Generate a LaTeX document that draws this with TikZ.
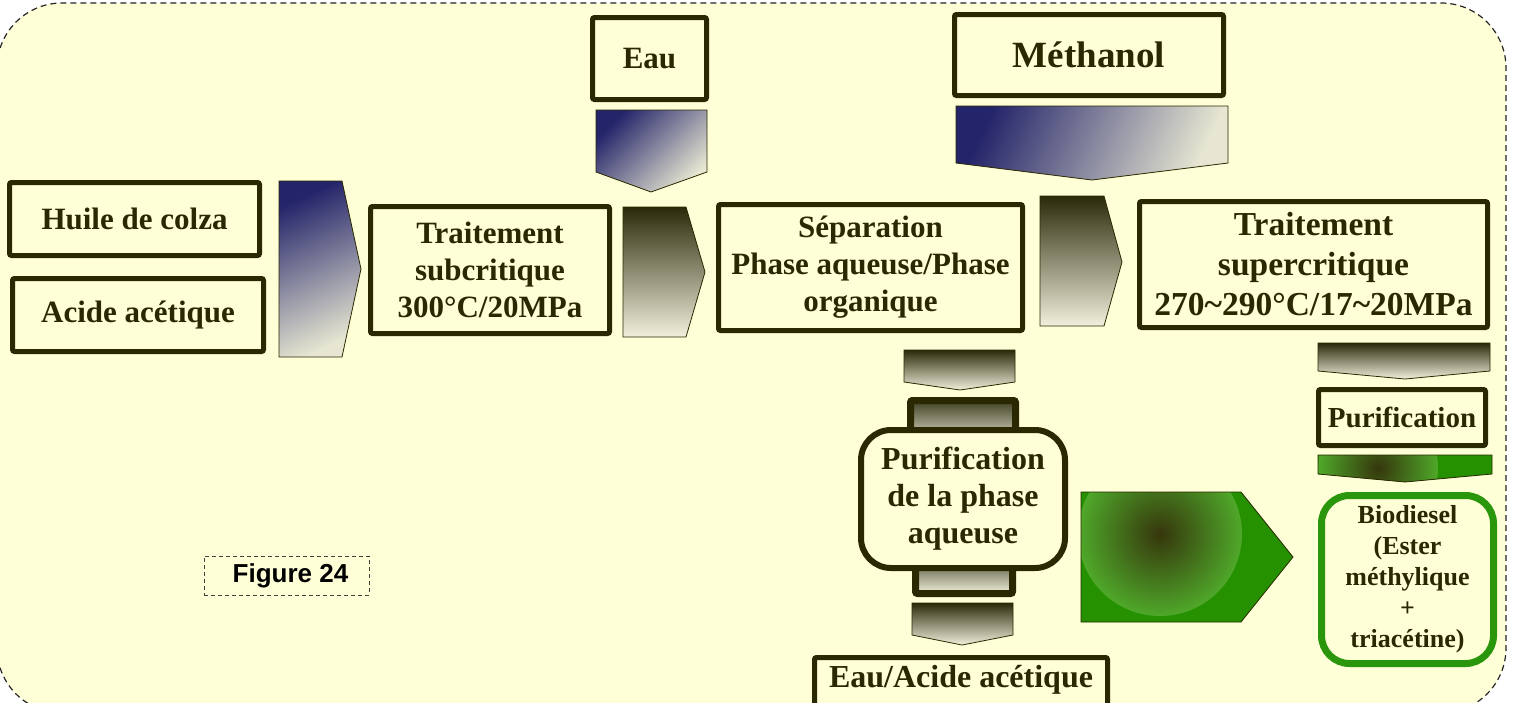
\documentclass[tikz,border=0pt]{standalone}
\usepackage{fontspec}
\setmainfont{Liberation Serif}
\newfontfamily\sansbf{Liberation Sans}
\usetikzlibrary{shadings}
\definecolor{bg}{HTML}{FFFFD7}
\definecolor{dk}{HTML}{2A2800}
\definecolor{navy}{HTML}{24246A}
\definecolor{blmid}{HTML}{7474A0}
\definecolor{beige}{HTML}{E6E6D2}
\definecolor{olv}{HTML}{2A2A0A}
\definecolor{olvmid}{HTML}{7A7A54}
\definecolor{olvlt}{HTML}{F0F0DC}
\definecolor{grn}{HTML}{259000}
\definecolor{grnbox}{HTML}{2A960C}
\definecolor{grnlt}{HTML}{4FA82A}
\definecolor{grndk}{HTML}{36360C}
\begin{document}
\begin{tikzpicture}[x=1pt,y=-1pt,
  box/.style={draw=dk, line width=5pt, fill=bg, rounded corners=2pt, inner sep=0pt,
    align=center, text=dk, font=\fontsize{31}{37}\selectfont\bfseries},
  bluearr/.style={top color=navy, middle color=blmid, bottom color=beige, shading angle=#1,
    draw=dk, line width=0.8pt},
  darkarr/.style={top color=olv, middle color=olvmid, bottom color=olvlt, draw=dk, line width=0.8pt},
  tabbox/.style={draw=dk, line width=7pt, top color=olv!90!white, middle color=olvmid, bottom color=olvlt, rounded corners=2pt},
  greenline/.style={draw=dk, line width=0.8pt}
]
\useasboundingbox (0,0) rectangle (1514,702);
\fill[white] (0,0) rectangle (1514,702);
\path[fill=bg, draw=black!85, line width=1.2pt, dash pattern=on 6pt off 4pt, rounded corners=65pt]
  (-3,3) rectangle (1506,713);

% block arrows
\shadedraw[bluearr=25] (279,181) -- (342,181) -- (361,269) -- (342,357) -- (279,357) -- cycle;
\shadedraw[darkarr] (623,207) -- (686,207) -- (705,272) -- (686,337) -- (623,337) -- cycle;
\shadedraw[bluearr=45] (596,110) -- (707,110) -- (707,172) -- (651,192) -- (596,172) -- cycle;
\shadedraw[bluearr=65] (956,106) -- (1228,106) -- (1228,163) -- (1092,180) -- (956,163) -- cycle;
\shadedraw[darkarr] (1040,196) -- (1104,196) -- (1122,262) -- (1104,326) -- (1040,326) -- cycle;
\shadedraw[darkarr] (904,350) -- (1015,350) -- (1015,382) -- (960,390) -- (904,382) -- cycle;
\shadedraw[darkarr] (912,603) -- (1013,603) -- (1013,635) -- (962,645) -- (912,635) -- cycle;
\shadedraw[darkarr] (1318,343) -- (1490,343) -- (1490,371) -- (1405,379) -- (1318,371) -- cycle;

% green arrows
\fill[grn] (1081,492) -- (1241,492) -- (1293,557) -- (1241,622) -- (1081,622) -- cycle;
\begin{scope}
  \clip (1081,492) -- (1241,492) -- (1293,557) -- (1241,622) -- (1081,622) -- cycle;
  \shade[inner color=grndk, outer color=grnlt] (1160,534) circle (82);
\end{scope}
\draw[greenline] (1081,492) -- (1241,492) -- (1293,557) -- (1241,622) -- (1081,622) -- cycle;

\fill[grn] (1318,455) -- (1492,455) -- (1492,474) -- (1405,482) -- (1318,474) -- cycle;
\begin{scope}
  \clip (1318,455) -- (1492,455) -- (1492,474) -- (1405,482) -- (1318,474) -- cycle;
  \shade[inner color=grndk, outer color=grnlt] (1378,468) circle (60);
\end{scope}
\draw[greenline] (1318,455) -- (1492,455) -- (1492,474) -- (1405,482) -- (1318,474) -- cycle;

% tabs of the purification box
\draw[tabbox] (910.5,400.5) rectangle (1015.5,445);
\draw[tabbox] (915.5,555) rectangle (1012.5,593.5);

% boxes
\node[box, minimum width=250pt, minimum height=73pt] (huile) at (134.5,219) {Huile de colza};
\node[box, minimum width=251pt, minimum height=73pt] (acide) at (138,315) {Acide acétique};
\node[box, minimum width=239pt, minimum height=127pt] (sub) at (490,270) {Traitement\\subcritique\\300°C/20MPa};
\node[box, minimum width=114pt, minimum height=82pt] (eau) at (649.5,58.5) {Eau};
\node[box, minimum width=304pt, minimum height=126pt] (sep) at (870.5,267.5) {Séparation\\Phase aqueuse/Phase\\organique};
\node[box, minimum width=269pt, minimum height=81pt, font=\fontsize{37}{44}\selectfont\bfseries] (meth) at (1089,55) {Méthanol};
\node[box, minimum width=348pt, minimum height=126pt, font=\fontsize{33.5}{40}\selectfont\bfseries] (super) at (1313.5,264.5) {Traitement\\supercritique\\270\char`\~290°C/17\char`\~20MPa};
\node[box, minimum width=167pt, minimum height=56pt, font=\fontsize{29}{34}\selectfont\bfseries] (purif) at (1402,417.5) {Purification};
\node[box, line width=6pt, rounded corners=30pt, minimum width=204pt, minimum height=138pt, font=\fontsize{32}{37}\selectfont\bfseries] (purifaq) at (963,499) {Purification\\de la phase\\aqueuse};
\node[box, minimum width=293pt, minimum height=52pt] (eaubox) at (961,683.5) {};
\node[text=dk, font=\fontsize{32}{37}\selectfont\bfseries, anchor=base, inner sep=0pt] (eautext) at (961,687) {Eau/Acide acétique};
\node[box, draw=grnbox, line width=7pt, rounded corners=28pt, minimum width=172pt, minimum height=168pt, font=\fontsize{26}{31}\selectfont\bfseries] (bio) at (1407.5,579.5) {Biodiesel\\(Ester\\méthylique\\+\\triacétine)};

% figure label
\node[draw=black!75, line width=0.8pt, dash pattern=on 4pt off 3pt, minimum width=165pt, minimum height=39pt, inner sep=0pt,
  font=\sansbf\fontsize{26}{30}\selectfont\bfseries] (fig) at (286.5,575.5) {\hspace{8pt}Figure 24};
\end{tikzpicture}
\end{document}
